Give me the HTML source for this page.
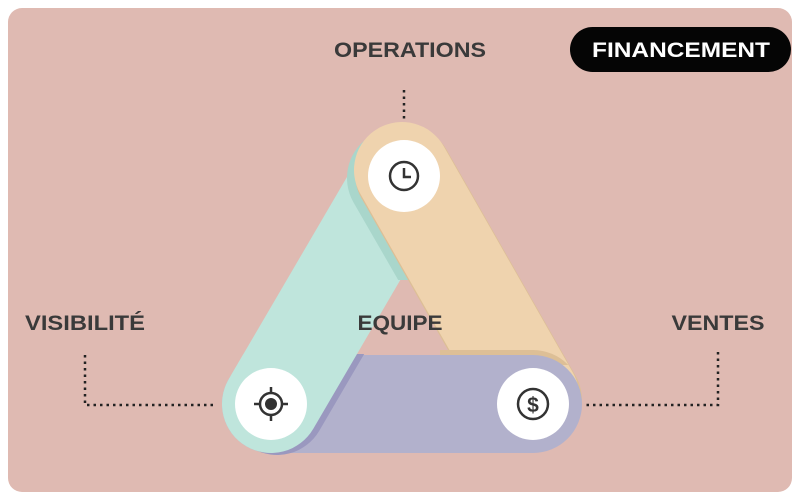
<!DOCTYPE html>
<html><head><meta charset="utf-8"><style>
html,body{margin:0;padding:0;background:#fff;}
svg{display:block}
</style></head><body>
<svg width="800" height="500" viewBox="0 0 800 500" xmlns="http://www.w3.org/2000/svg">
<defs>
<clipPath id="bl"><polygon points="200,354 370,354 370,470 200,470"/></clipPath>
<clipPath id="tp"><rect x="300" y="100" width="200" height="180"/></clipPath>
</defs>
<rect x="8" y="8" width="784" height="484" rx="14" fill="#dfbab2"/>
<!-- teal full -->
<line x1="271" y1="404" x2="402" y2="180" stroke="#bfe5dc" stroke-width="98" stroke-linecap="round"/>
<!-- orange shadow on teal -->
<g clip-path="url(#tp)">
<line x1="404" y1="176" x2="533" y2="400" stroke="#a9d6cb" stroke-width="98" stroke-linecap="round" transform="translate(-8,2)"/>
</g>
<!-- orange -->
<line x1="404" y1="178" x2="533" y2="404" stroke="#ddbf96" stroke-width="98" stroke-linecap="round" transform="translate(0,-4)"/>
<line x1="404" y1="178" x2="533" y2="404" stroke="#efd3ae" stroke-width="96" stroke-linecap="round" transform="translate(-2,-8)"/>
<!-- purple -->
<line x1="271" y1="404" x2="533" y2="404" stroke="#ddbf96" stroke-width="98" stroke-linecap="round" transform="translate(0,-5)" clip-path="url(#rr)"/>
<defs><clipPath id="rr"><rect x="440" y="340" width="160" height="30"/></clipPath></defs>
<line x1="271" y1="404" x2="533" y2="404" stroke="#b2b1cc" stroke-width="98" stroke-linecap="round"/>
<!-- teal over purple at bottom-left -->
<g clip-path="url(#bl)">
<line x1="271" y1="404" x2="402" y2="180" stroke="#9a98bf" stroke-width="98" stroke-linecap="round" transform="translate(6,2)"/>
<line x1="271" y1="404" x2="402" y2="180" stroke="#bfe5dc" stroke-width="98" stroke-linecap="round"/>
</g>
<!-- white circles -->
<circle cx="404" cy="176" r="36" fill="#fff"/>
<circle cx="271" cy="404" r="36" fill="#fff"/>
<circle cx="533" cy="404" r="36" fill="#fff"/>
<!-- clock -->
<circle cx="404" cy="176" r="14" fill="none" stroke="#333" stroke-width="2.5"/>
<path d="M404 168 V177 H411" fill="none" stroke="#333" stroke-width="2.5"/>
<!-- target -->
<circle cx="271" cy="404" r="11" fill="none" stroke="#333" stroke-width="2.5"/>
<circle cx="271" cy="404" r="6" fill="#333"/>
<path d="M271 387v6M271 415v6M254 404h6M282 404h6" stroke="#333" stroke-width="2.5"/>
<!-- dollar -->
<circle cx="533" cy="404" r="15" fill="none" stroke="#333" stroke-width="2.5"/>
<text x="533" y="412" text-anchor="middle" font-family="Liberation Sans, sans-serif" font-weight="bold" font-size="21" fill="#333">$</text>
<!-- dotted connectors -->
<g stroke="#222" stroke-width="2.5" stroke-dasharray="2.5,4" fill="none">
<path d="M404 90 V120"/>
<path d="M85 355 V405 H216"/>
<path d="M718 352 V405 H586"/>
</g>
<g font-family="Liberation Sans, sans-serif" font-weight="bold" font-size="21" fill="#3a3a3a">
<text x="410" y="57" text-anchor="middle" textLength="152" lengthAdjust="spacingAndGlyphs">OPERATIONS</text>
<text x="85" y="330" text-anchor="middle" textLength="120" lengthAdjust="spacingAndGlyphs">VISIBILITÉ</text>
<text x="400" y="330" text-anchor="middle" textLength="85" lengthAdjust="spacingAndGlyphs">EQUIPE</text>
<text x="718" y="330" text-anchor="middle" textLength="93" lengthAdjust="spacingAndGlyphs">VENTES</text>
</g>
<rect x="570" y="27" width="221" height="45" rx="22.5" fill="#050505"/>
<text x="681" y="57" text-anchor="middle" font-family="Liberation Sans, sans-serif" font-weight="bold" font-size="21" fill="#fff" textLength="178" lengthAdjust="spacingAndGlyphs">FINANCEMENT</text>
</svg>
</body></html>
